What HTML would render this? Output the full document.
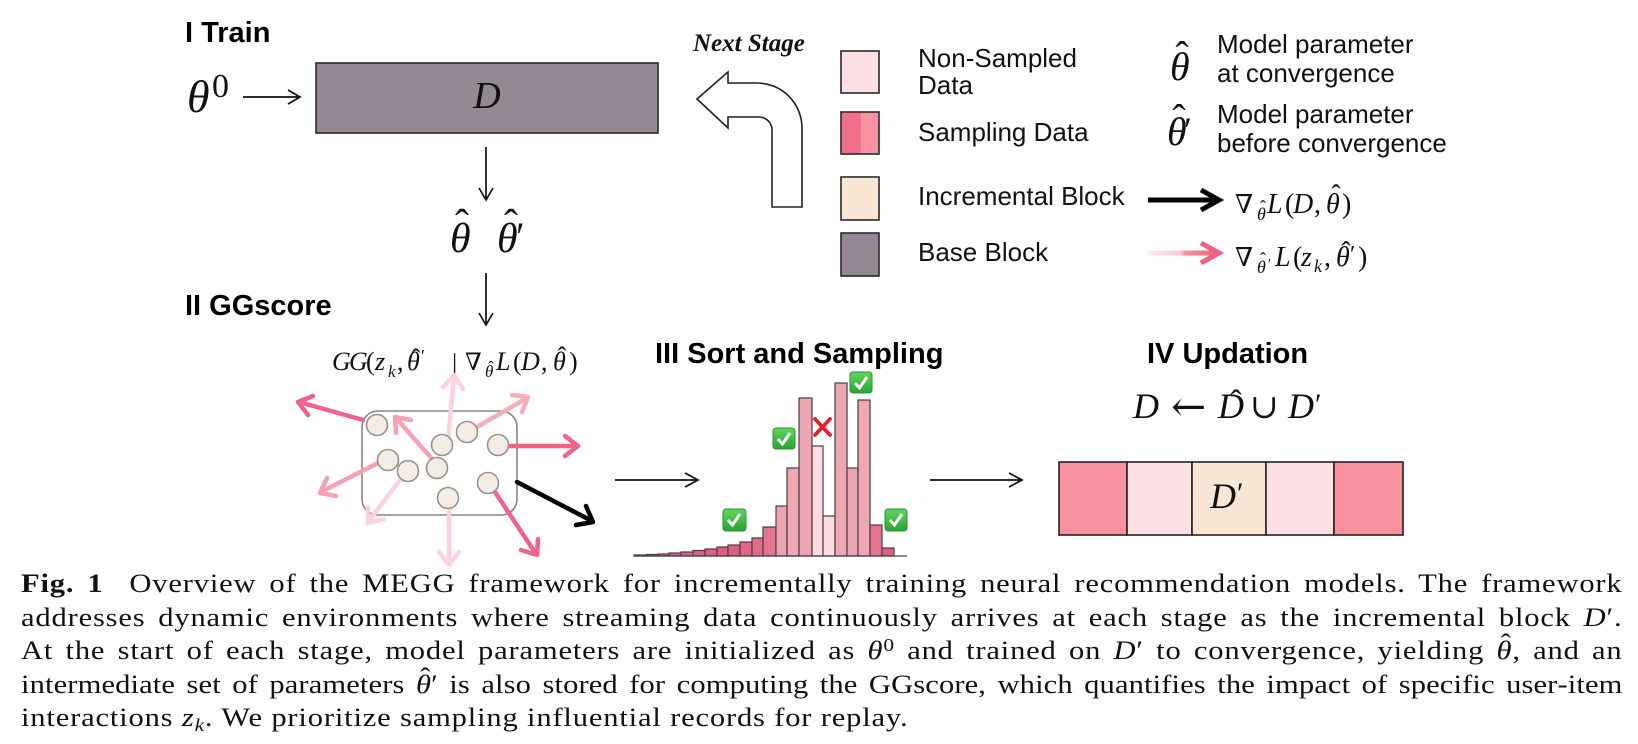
<!DOCTYPE html>
<html><head><meta charset="utf-8">
<style>
html,body{margin:0;padding:0;background:#fff;}
body{width:1638px;height:744px;position:relative;overflow:hidden;}
svg{position:absolute;left:0;top:0;}
.t{font-family:"Liberation Sans",sans-serif;font-weight:bold;font-size:29px;fill:#000;}
.m{font-family:"Liberation Serif","DejaVu Serif",serif;font-style:italic;fill:#111;}
.r{font-family:"Liberation Serif","DejaVu Serif",serif;font-style:normal;fill:#111;}
.lg{font-family:"Liberation Sans",sans-serif;font-size:26px;fill:#111;}
#cap{position:absolute;left:21px;top:567px;width:1363px;transform:scaleX(1.175);transform-origin:0 0;font-family:"Liberation Serif",serif;font-size:26px;line-height:33.5px;color:#111;letter-spacing:0.7px;}
#cap div{text-align:justify;text-align-last:justify;}
#cap div.l4{letter-spacing:0.1px;word-spacing:-1px;}
#cap div.last{text-align:left;text-align-last:left;}
#cap .sup{font-size:0.7em;position:relative;top:-0.45em;line-height:0;}
#cap .sub{font-size:0.7em;position:relative;top:0.3em;line-height:0;}
#cap .h{position:relative;display:inline-block;}
#cap .h .c{position:absolute;left:0.14em;top:-0.26em;font-style:normal;font-weight:normal;}
</style></head>
<body>
<svg width="1638" height="744" viewBox="0 0 1638 744" xmlns="http://www.w3.org/2000/svg">
<defs>
<linearGradient id="pg" x1="1148" y1="0" x2="1220" y2="0" gradientUnits="userSpaceOnUse">
<stop offset="0" stop-color="#fdeef1"/><stop offset="0.45" stop-color="#fbcad3"/><stop offset="0.52" stop-color="#f68ea3"/><stop offset="1" stop-color="#f2607f"/>
</linearGradient>
<linearGradient id="gg" x1="0" y1="0" x2="0" y2="1">
<stop offset="0" stop-color="#62d65c"/><stop offset="1" stop-color="#28a334"/>
</linearGradient>
</defs>

<!-- Titles -->
<text class="t" x="185" y="42">I Train</text>
<text class="t" x="185" y="315">II GGscore</text>
<text class="t" x="655" y="363">III Sort and Sampling</text>
<text class="t" x="1147" y="363">IV Updation</text>

<!-- theta^0 arrow -->
<text class="m" x="187" y="112" font-size="46">θ</text>
<text class="r" x="212" y="97" font-size="34">0</text>
<g stroke="#111" stroke-width="1.7" fill="none">
<line x1="243" y1="97" x2="299" y2="97"/>
<polyline points="288,90 300,97 288,104"/>
<line x1="486" y1="147" x2="486" y2="199"/>
<polyline points="479,188 486,200 493,188"/>
<line x1="486" y1="273" x2="486" y2="324"/>
<polyline points="479,313 486,325 493,313"/>
<line x1="615" y1="480" x2="697" y2="480"/>
<polyline points="685,473 698,480 685,487"/>
<line x1="930" y1="480" x2="1021" y2="480"/>
<polyline points="1009,473 1022,480 1009,487"/>
</g>

<!-- Base block D -->
<rect x="316" y="63" width="342" height="70" fill="#938894" stroke="#2a2a2a" stroke-width="1.6"/>
<text class="m" x="487" y="108" font-size="38" text-anchor="middle" fill="#222">D</text>

<!-- theta hats -->
<text class="m" x="450" y="252" font-size="42">θ</text>
<text class="r" x="462" y="238" font-size="42" text-anchor="middle">ˆ</text>
<text class="m" x="497" y="252" font-size="42">θ</text>
<text class="r" x="511" y="238" font-size="42" text-anchor="middle">ˆ</text>
<text class="r" x="516" y="250" font-size="40">′</text>

<!-- Next stage arrow -->
<text x="693" y="51" font-family="Liberation Serif, serif" font-weight="bold" font-style="italic" font-size="25" fill="#111">Next Stage</text>
<path d="M697,99 L728,72 L728,83 L757,83 A45,45 0 0 1 802,128 L802,207 L772,207 L772,130 A13,13 0 0 0 759,117 L728,117 L728,128 Z" fill="#fff" stroke="#222" stroke-width="1.6" stroke-linejoin="miter"/>

<!-- Legend swatches -->
<g stroke="#2a2a2a" stroke-width="1.6">
<rect x="841" y="51" width="38" height="42" fill="#fde0e4"/>
<rect x="841" y="112" width="20" height="42" fill="#f26f8c" stroke="none"/>
<rect x="861" y="112" width="18" height="42" fill="#f7939f" stroke="none"/>
<rect x="841" y="112" width="38" height="42" fill="none"/>
<rect x="841" y="177" width="38" height="43" fill="#f9e6d4"/>
<rect x="841" y="233" width="38" height="43" fill="#938894"/>
</g>
<text class="lg" x="918" y="67">Non-Sampled</text>
<text class="lg" x="918" y="94">Data</text>
<text class="lg" x="918" y="141">Sampling Data</text>
<text class="lg" x="918" y="205">Incremental Block</text>
<text class="lg" x="918" y="261">Base Block</text>

<text class="m" x="1170" y="80" font-size="40">θ</text>
<text class="r" x="1182" y="69" font-size="40" text-anchor="middle">ˆ</text>
<text class="lg" x="1217" y="53">Model parameter</text>
<text class="lg" x="1217" y="82">at convergence</text>
<text class="m" x="1167" y="145" font-size="40">θ</text>
<text class="r" x="1179" y="132" font-size="40" text-anchor="middle">ˆ</text>
<text class="r" x="1184" y="142" font-size="36">′</text>
<text class="lg" x="1217" y="123">Model parameter</text>
<text class="lg" x="1217" y="152">before convergence</text>

<!-- legend arrows -->
<line x1="1148" y1="200" x2="1214" y2="200" stroke="#000" stroke-width="5"/>
<polyline points="1201,190 1219,200 1201,210" fill="none" stroke="#000" stroke-width="5"/>
<line x1="1148" y1="253" x2="1214" y2="253" stroke="url(#pg)" stroke-width="5"/>
<polyline points="1201,243 1219,253 1201,263" fill="none" stroke="#f2607f" stroke-width="5"/>

<!-- legend formula 1 -->
<text class="r" x="1235" y="213" font-size="26">∇</text>
<text class="m" x="1257" y="220" font-size="18">θ</text>
<text class="r" x="1263" y="213" font-size="18" text-anchor="middle">ˆ</text>
<text class="m" x="1267" y="213" font-size="28">L</text>
<text class="r" x="1285" y="213" font-size="28">(</text>
<text class="m" x="1293" y="213" font-size="28">D</text>
<text class="r" x="1314" y="213" font-size="28">,</text>
<text class="m" x="1326" y="213" font-size="28">θ</text>
<text class="r" x="1336" y="204" font-size="28" text-anchor="middle">ˆ</text>
<text class="r" x="1342" y="213" font-size="28">)</text>

<!-- legend formula 2 -->
<text class="r" x="1235" y="266" font-size="26">∇</text>
<text class="m" x="1257" y="273" font-size="18">θ</text>
<text class="r" x="1263" y="265" font-size="18" text-anchor="middle">ˆ</text>
<text class="r" x="1268" y="268" font-size="14">′</text>
<text class="m" x="1275" y="266" font-size="28">L</text>
<text class="r" x="1293" y="266" font-size="28">(</text>
<text class="m" x="1301" y="266" font-size="28">z</text>
<text class="m" x="1314" y="272" font-size="18">k</text>
<text class="r" x="1324" y="266" font-size="28">,</text>
<text class="m" x="1336" y="266" font-size="28">θ</text>
<text class="r" x="1346" y="261" font-size="28" text-anchor="middle">ˆ</text>
<text class="r" x="1350" y="262" font-size="24">′</text>
<text class="r" x="1358" y="266" font-size="28">)</text>

<!-- GG formula -->
<text class="m" x="332" y="370" font-size="26">G</text>
<text class="m" x="349" y="370" font-size="26">G</text>
<text class="r" x="366" y="370" font-size="26">(</text>
<text class="m" x="375" y="370" font-size="26">z</text>
<text class="m" x="388" y="377" font-size="17">k</text>
<text class="r" x="397" y="370" font-size="26">,</text>
<text class="m" x="407" y="370" font-size="26">θ</text>
<text class="r" x="416" y="367" font-size="26" text-anchor="middle">ˆ</text>
<text class="r" x="421" y="362" font-size="18">′</text>
<text class="r" x="452" y="372" font-size="26">|</text>
<text class="r" x="465" y="370" font-size="24">∇</text>
<text class="m" x="485" y="377" font-size="17">θ</text>
<text class="r" x="491" y="373" font-size="17" text-anchor="middle">ˆ</text>
<text class="m" x="496" y="370" font-size="26">L</text>
<text class="r" x="513" y="370" font-size="26">(</text>
<text class="m" x="521" y="370" font-size="26">D</text>
<text class="r" x="541" y="370" font-size="26">,</text>
<text class="m" x="553" y="370" font-size="26">θ</text>
<text class="r" x="562" y="365" font-size="26" text-anchor="middle">ˆ</text>
<text class="r" x="569" y="370" font-size="26">)</text>

<!-- GG box -->
<rect x="362" y="411" width="155" height="104" rx="16" ry="16" fill="none" stroke="#8a8585" stroke-width="1.6"/>
<g fill="none" stroke-width="4.5" stroke-linecap="round" stroke-linejoin="round">
<g stroke="#fcd3da">
<line x1="447" y1="450" x2="454" y2="376"/><polyline points="463,389 454,375 443,387"/>
<line x1="400" y1="480" x2="368" y2="522"/><polyline points="368,507 368,523 384,519"/>
<line x1="449" y1="507" x2="449" y2="564"/><polyline points="439,552 449,565 459,552"/>
</g>
<g stroke="#f5a3b3">
<line x1="433" y1="460" x2="396" y2="418"/><polyline points="411,420 395,417 396,433"/>
<line x1="378" y1="463" x2="321" y2="492"/><polyline points="327,478 320,493 336,496"/>
</g>
<g stroke="#f7adba">
<line x1="477" y1="427" x2="527" y2="398"/><polyline points="522,412 528,397 512,395"/>
</g>
<g stroke="#f0648a">
<line x1="363" y1="420" x2="299" y2="402"/><polyline points="313,396 298,402 308,415"/>
<line x1="508" y1="446" x2="577" y2="446"/><polyline points="565,436 578,446 565,456"/>
<line x1="495" y1="492" x2="536" y2="554"/><polyline points="521,550 537,555 538,539"/>
</g>
<g stroke="#000">
<line x1="517" y1="482" x2="592" y2="521"/><polyline points="586,506 593,522 576,525"/>
</g>
</g>
<g fill="#f4ede6" stroke="#9a9090" stroke-width="1.6">
<circle cx="377" cy="425" r="10.5"/>
<circle cx="442" cy="445" r="10.5"/>
<circle cx="467" cy="432" r="10.5"/>
<circle cx="498" cy="445" r="10.5"/>
<circle cx="388" cy="460" r="10.5"/>
<circle cx="408" cy="471" r="10.5"/>
<circle cx="437" cy="468" r="10.5"/>
<circle cx="488" cy="483" r="10.5"/>
<circle cx="448" cy="498" r="10.5"/>
</g>

<!-- Histogram -->
<g stroke="#4d3b40" stroke-width="1.2">
<rect x="634" y="555" width="12" height="1" fill="#dd6082"/>
<rect x="646" y="554.5" width="12" height="1.5" fill="#dd6082"/>
<rect x="658" y="554" width="11" height="2" fill="#dd6082"/>
<rect x="669" y="553" width="12" height="3" fill="#dd6082"/>
<rect x="681" y="552" width="12" height="4" fill="#dd6082"/>
<rect x="693" y="550.5" width="12" height="5.5" fill="#dd6082"/>
<rect x="705" y="549" width="12" height="7" fill="#dd6082"/>
<rect x="717" y="547" width="11" height="9" fill="#dd6082"/>
<rect x="728" y="545" width="12" height="11" fill="#dd6082"/>
<rect x="740" y="542" width="12" height="14" fill="#df6686"/>
<rect x="752" y="538" width="11" height="18" fill="#e16d8b"/>
<rect x="763" y="527" width="13" height="29" fill="#e3738f"/>
<rect x="776" y="506" width="11" height="50" fill="#eba3b0"/>
<rect x="787" y="468" width="12" height="88" fill="#eca7b3"/>
<rect x="799" y="398" width="13" height="158" fill="#eca7b3"/>
<rect x="812" y="446" width="11" height="110" fill="#fbdde1"/>
<rect x="823" y="516" width="12" height="40" fill="#fbdde1"/>
<rect x="835" y="383" width="12" height="173" fill="#eca7b3"/>
<rect x="847" y="468" width="11" height="88" fill="#eca7b3"/>
<rect x="858" y="400" width="12" height="156" fill="#eca7b3"/>
<rect x="870" y="525" width="12" height="31" fill="#e3738f"/>
<rect x="882" y="548" width="12" height="8" fill="#dd6082"/>
</g>
<line x1="634" y1="556" x2="907" y2="556" stroke="#444" stroke-width="1.3"/>

<!-- checkmarks -->
<g>
<rect x="850" y="372" width="22" height="21" rx="3" fill="url(#gg)" stroke="#2a8f36" stroke-width="1"/>
<polyline points="855,383 859.5,388 867,377" fill="none" stroke="#fff" stroke-width="3"/>
<rect x="773" y="428" width="22" height="21" rx="3" fill="url(#gg)" stroke="#2a8f36" stroke-width="1"/>
<polyline points="778,439 782.5,444 790,433" fill="none" stroke="#fff" stroke-width="3"/>
<rect x="723" y="509" width="23" height="22" rx="3" fill="url(#gg)" stroke="#2a8f36" stroke-width="1"/>
<polyline points="728,520 732.5,525 740,514" fill="none" stroke="#fff" stroke-width="3"/>
<rect x="885" y="509" width="22" height="22" rx="3" fill="url(#gg)" stroke="#2a8f36" stroke-width="1"/>
<polyline points="890,520 894.5,525 902,514" fill="none" stroke="#fff" stroke-width="3"/>
</g>
<g stroke="#e4202c" stroke-width="3.8" stroke-linecap="round">
<line x1="815" y1="419" x2="830" y2="435"/>
<line x1="830" y1="419" x2="815" y2="435"/>
</g>

<!-- Updation -->
<text class="m" x="1133" y="418" font-size="36">D</text>
<text x="1171" y="421" font-size="42" font-family="DejaVu Serif, serif" fill="#111">←</text>
<text class="m" x="1218" y="418" font-size="36">D</text>
<text class="r" x="1236" y="413" font-size="34" text-anchor="middle">ˆ</text>
<text class="r" x="1250" y="418" font-size="34">∪</text>
<text class="m" x="1288" y="418" font-size="36">D</text>
<text class="r" x="1315" y="414" font-size="30">′</text>

<g stroke="#222" stroke-width="1.6">
<rect x="1059" y="462" width="68" height="73" fill="#f7919d"/>
<rect x="1127" y="462" width="65" height="73" fill="#fde0e4"/>
<rect x="1192" y="462" width="74" height="73" fill="#f9e6d4"/>
<rect x="1266" y="462" width="68" height="73" fill="#fde0e4"/>
<rect x="1334" y="462" width="69" height="73" fill="#f7919d"/>
</g>
<text class="m" x="1210" y="508" font-size="36">D</text>
<text class="r" x="1237" y="503" font-size="30">′</text>
</svg>

<div id="cap">
<div><b>Fig.&nbsp;1</b>&nbsp;&nbsp;Overview of the MEGG framework for incrementally training neural recommendation models. The framework</div>
<div>addresses dynamic environments where streaming data continuously arrives at each stage as the incremental block <i>D</i>′.</div>
<div>At the start of each stage, model parameters are initialized as <i>θ</i><span class="sup">0</span> and trained on <i>D</i>′ to convergence, yielding <span class="h"><i>θ</i><span class="c">ˆ</span></span>, and an</div>
<div class="l4">intermediate set of parameters <span class="h"><i>θ</i><span class="c">ˆ</span></span>′ is also stored for computing the GGscore, which quantifies the impact of specific user&#8209;item</div>
<div class="last">interactions <i>z</i><span class="sub"><i>k</i></span>. We prioritize sampling influential records for replay.</div>
</div>
</body></html>
